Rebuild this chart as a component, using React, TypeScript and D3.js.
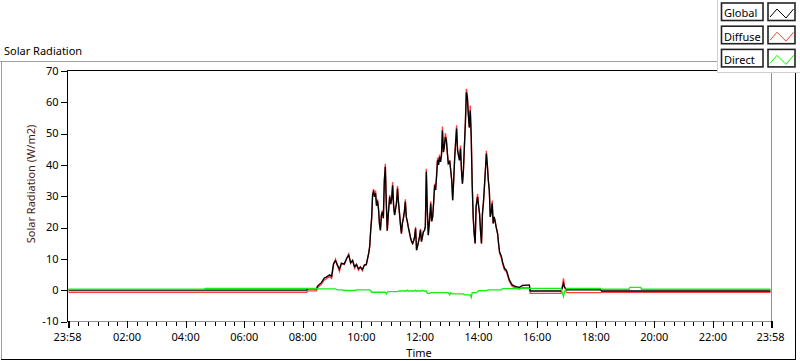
import React from "react";
import * as d3 from "d3";

// ---- data (W/m2), sampled at the listed clock times ----
const times = [
  "00:00","04:38","04:40","08:08","08:10","08:28","08:30","08:38","08:44","08:48",
  "08:55","08:59","09:03","09:07","09:11","09:15","09:19","09:25","09:30","09:34",
  "09:38","09:42","09:46","09:50","09:54","09:58","10:02","10:06","10:10","10:15",
  "10:17","10:19","10:21","10:23","10:25","10:27","10:29","10:31","10:33","10:35",
  "10:37","10:39","10:41","10:43","10:45","10:47","10:49","10:51","10:53","10:55",
  "10:58","11:00","11:02","11:04","11:06","11:08","11:10","11:12","11:14","11:16",
  "11:18","11:20","11:22","11:24","11:26","11:28","11:30","11:32","11:34","11:36",
  "11:39","11:41","11:43","11:45","11:47","11:49","11:51","11:53","11:55","11:57",
  "11:59","12:01","12:03","12:05","12:07","12:09","12:11","12:13","12:15","12:17",
  "12:20","12:22","12:24","12:26","12:28","12:30","12:32","12:34","12:36","12:38",
  "12:40","12:42","12:44","12:46","12:48","12:50","12:52","12:54","12:56","12:58",
  "13:01","13:03","13:05","13:07","13:09","13:11","13:13","13:15","13:17","13:19",
  "13:21","13:23","13:25","13:27","13:29","13:31","13:33","13:35","13:37","13:39",
  "13:41","13:43","13:45","13:47","13:49","13:51","13:53","13:55","13:58","14:00",
  "14:02","14:04","14:06","14:08","14:10","14:12","14:14","14:16","14:18","14:20",
  "14:22","14:24","14:26","14:28","14:30","14:32","14:34","14:36","14:39","14:41",
  "14:43","14:47","14:49","14:53","14:57","14:59","15:03","15:07","15:09","15:17",
  "15:24","15:30","15:44","15:46","16:49","16:52","16:54","16:56","17:00","18:10",
  "18:12","19:08","19:10","19:32","19:34","23:58",
];

const globalRad = [
  0, 0, 0, 0, 0.4, 0.4, 1.3, 2.4, 3.9, 4.2,
  4.9, 4.4, 8.5, 9.4, 8.0, 6.7, 8.6, 8.4, 10.2, 11.2,
  8.8, 9.5, 7.5, 8.2, 6.8, 7.4, 6.6, 8.0, 8.2, 11.8,
  14.0, 19.0, 23.0, 30.5, 31.4, 29.8, 31.0, 27.0, 28.5, 26.0,
  21.3, 19.2, 24.0, 25.0, 23.0, 35.0, 39.4, 28.0, 19.0, 24.0,
  29.8, 27.5, 29.0, 33.5, 27.0, 24.0, 26.0, 27.8, 32.5, 28.0,
  24.6, 21.0, 18.1, 21.4, 23.0, 25.0, 28.2, 23.4, 22.0, 20.2,
  18.0, 16.5, 15.5, 14.9, 15.8, 17.0, 19.7, 12.8, 14.0, 15.5,
  17.0, 19.2, 15.5, 17.0, 18.7, 19.0, 20.3, 37.8, 25.6, 17.6,
  23.0, 27.7, 22.0, 23.4, 28.0, 33.5, 32.0, 36.2, 41.5, 40.0,
  42.6, 41.0, 43.0, 51.0, 44.1, 46.0, 48.9, 47.9, 44.0, 40.4,
  41.0, 38.3, 35.1, 28.7, 35.0, 42.0, 47.0, 51.6, 44.7, 43.0,
  41.5, 45.2, 38.3, 34.0, 38.3, 46.0, 53.2, 63.2, 61.6, 56.3,
  52.0, 57.4, 48.9, 33.5, 23.4, 18.1, 14.9, 26.6, 29.8, 27.0,
  24.5, 19.0, 14.9, 24.5, 28.0, 33.0, 38.3, 43.6, 40.0, 35.1,
  31.9, 23.4, 25.0, 27.7, 21.3, 23.4, 22.0, 20.2, 18.1, 15.0,
  12.3, 10.7, 9.1, 7.0, 6.4, 5.4, 3.3, 2.2, 1.7, 1.1,
  0.9, 1.5, 1.7, -0.25, -0.25, 1.0, 2.2, 1.0, 0.1, 0.1,
  -0.25, -0.25, -0.25, -0.25, -0.25, -0.25,
];

const diffuseRad = [
  -0.65, -0.65, -0.65, -0.65, -0.2, -0.2, 0.8, 1.9, 3.3, 3.6,
  4.4, 3.8, 8.2, 9.9, 7.8, 6.0, 8.6, 8.2, 10.2, 11.6,
  8.5, 9.5, 7.0, 8.2, 6.4, 7.4, 6.2, 8.0, 8.0, 11.8,
  14.0, 19.0, 23.0, 31.0, 32.3, 30.0, 31.8, 27.0, 29.0, 26.0,
  21.0, 19.0, 24.0, 25.5, 23.0, 35.0, 40.4, 28.0, 19.0, 24.0,
  30.4, 27.5, 29.4, 34.5, 27.0, 24.0, 26.0, 28.5, 33.3, 28.0,
  24.6, 21.0, 18.0, 21.4, 23.0, 25.0, 29.0, 23.4, 22.0, 20.2,
  18.0, 16.5, 15.5, 14.9, 15.8, 17.0, 20.2, 12.8, 14.0, 15.5,
  17.0, 19.6, 15.5, 17.0, 18.7, 19.0, 20.3, 38.8, 25.6, 17.6,
  23.0, 28.4, 22.0, 23.4, 28.0, 34.0, 32.0, 37.0, 42.3, 40.0,
  43.3, 41.0, 43.0, 52.3, 44.1, 46.0, 50.2, 48.5, 44.0, 40.4,
  41.5, 38.3, 35.1, 28.7, 35.0, 42.0, 47.5, 52.7, 44.7, 43.0,
  41.5, 46.2, 38.3, 34.0, 38.3, 46.0, 53.6, 64.3, 62.6, 56.3,
  52.0, 59.0, 48.9, 33.5, 23.4, 18.1, 14.9, 27.2, 30.8, 27.0,
  24.5, 19.0, 14.9, 24.5, 28.0, 33.0, 38.3, 44.5, 40.0, 35.1,
  31.9, 23.4, 25.0, 28.6, 21.3, 23.4, 22.0, 20.2, 18.1, 14.6,
  11.8, 10.1, 8.6, 6.5, 5.9, 4.9, 2.8, 1.7, 1.2, 0.6,
  0.4, 0.8, 0.7, -1.0, -1.0, 1.8, 3.8, 1.2, -0.8, -0.8,
  -0.65, -0.65, -0.65, -0.65, -0.65, -0.65,
];

const directRad = [
  0.3, 0.3, 0.6, 0.6, 0.6, 0.6, 0.4, 0.4, 0.4, 0.4,
  0.4, 0.4, 0.4, 0.4, 0.1, 0.1, 0.1, -0.1, -0.1, -0.1,
  -0.1, -0.1, -0.1, 0.1, 0.1, 0.1, 0.1, 0.1, 0.1, 0.1,
  0.1, -0.2, -0.65, -0.65, -0.65, -0.65, -0.65, -0.65, -0.65, -0.65,
  -0.65, -0.65, -0.65, -0.65, -0.65, -0.65, -0.65, -1.2, -0.65, -0.45,
  -0.45, -0.45, -0.45, -0.45, -0.45, -0.45, -0.45, -0.45, -0.45, -0.3,
  -0.25, -0.25, -0.25, -0.25, -0.25, -0.25, -0.25, -0.25, 0, -0.25,
  -0.25, -0.25, -0.25, -0.25, -0.25, -0.25, 0, -0.25, -0.25, -0.25,
  -0.25, -0.25, -0.25, 0, -0.25, -0.25, -0.25, -0.25, -1.0, -1.0,
  -1.0, -0.8, -0.8, -0.8, -0.8, -0.8, -0.8, -0.8, -0.8, -0.8,
  -0.8, -0.8, -0.8, -0.8, -0.8, -0.8, -0.8, -0.8, -0.8, -0.8,
  -1.5, -0.8, -1.2, -1.2, -1.2, -1.2, -1.2, -1.2, -1.2, -1.2,
  -1.2, -1.2, -1.2, -1.2, -1.2, -1.5, -1.5, -1.5, -1.5, -1.5,
  -1.5, -1.5, -2.3, -0.8, -0.8, -0.8, -0.8, -0.8, -0.5, -0.15,
  -0.15, -0.15, -0.15, -0.15, -0.15, -0.15, -0.15, -0.15, 0, 0.1,
  0.1, 0.1, 0.1, 0.1, 0.1, 0.1, 0.1, 0.1, 0.1, 0.1,
  0.1, 0.1, 0.5, 0.5, 0.5, 0.5, 0.5, 0.5, 0.5, 0.5,
  0.5, 0.6, 0.6, 0.6, 0.6, -1.0, -2.0, -0.5, 0.6, 0.6,
  0.3, 0.3, 0.9, 0.9, 0.3, 0.3,
];

const yTicks = [-10, 0, 10, 20, 30, 40, 50, 60, 70];
const xTickTimes = ["23:58", "02:00", "04:00", "06:00", "08:00", "10:00", "12:00", "14:00", "16:00", "18:00", "20:00", "22:00", "23:58"];
const seriesNames = ["Global", "Diffuse", "Direct"];
const seriesColors = ["#000000", "#ff4040", "#14ee14"];

const FONT = "'Noto Sans', sans-serif";

function toMin(s: string): number {
  const [h, m] = s.split(":").map(Number);
  return h * 60 + m;
}

export default function App() {
  const W = 800;
  const H = 361;
  const left = 67.5;
  const right = 770.5;
  const top = 71;
  const bottom = 321.5;

  const x = d3.scaleLinear().domain([-2, 1438]).range([left, right]);
  const y = d3.scaleLinear().domain([-10, 70]).range([bottom, top]);

  const mins = times.map(toMin);
  const line = d3
    .line<number>()
    .x((_, i) => x(mins[i]))
    .y((d) => y(d));

  const majorMins = xTickTimes.map((t, i) => (i === 0 ? -2 : toMin(t)));
  const minorMins: number[] = [];
  for (let m = 20; m < 1438; m += 20) if (m % 120 !== 0) minorMins.push(m);

  const series = [globalRad, diffuseRad, directRad];
  const drawOrder = [1, 0, 2];

  const textColor = "#000";

  return (
    <svg
      width={W}
      height={H}
      style={{ position: "absolute", left: 0, top: 0, background: "#fff" }}
      fontFamily={FONT}
    >
      <rect x={0} y={0} width={W} height={H} fill="#fff" />

      {/* Title */}
      <text x={4} y={55} fontSize={11} fill={textColor}>Solar Radiation</text>

      {/* Outer frame */}
      <g shapeRendering="crispEdges">
        <line x1={0} x2={717} y1={61.5} y2={61.5} stroke="#a0a0a0" />
        <line x1={1.5} x2={1.5} y1={61} y2={359} stroke="#a0a0a0" />
        <line x1={1} x2={796} y1={359.5} y2={359.5} stroke="#000" />
        <line x1={795.5} x2={795.5} y1={72} y2={360} stroke="#000" />
      </g>

      {/* Data */}
      <g>
        {drawOrder.map((si) => (
          <path
            key={seriesNames[si]}
            d={line(series[si]) || ""}
            fill="none"
            stroke={seriesColors[si]}
            strokeWidth={1.35}
          />
        ))}
      </g>

      {/* Plot border */}
      <g shapeRendering="crispEdges">
        <line x1={left} x2={772} y1={70.5} y2={70.5} stroke="#000" />
        <line x1={771.5} x2={771.5} y1={70.5} y2={bottom} stroke="#909090" />
        <line x1={left} x2={772} y1={bottom} y2={bottom} stroke="#909090" />
        <line x1={left} x2={left} y1={70} y2={bottom + 0.5} stroke="#000" />
      </g>

      {/* Y axis */}
      <g shapeRendering="crispEdges">
        {yTicks.map((v) => (
          <line key={v} x1={61} x2={67} y1={Math.round(y(v)) + 0.5} y2={Math.round(y(v)) + 0.5} stroke="#000" />
        ))}
      </g>
      {yTicks.map((v) => (
        <text key={v} x={58.5} y={y(v)} dy="0.35em" textAnchor="end" fontSize={11} fill={textColor}>
          {v}
        </text>
      ))}
      <text
        transform={`translate(35,184) rotate(-90)`}
        textAnchor="middle"
        fontSize={11}
        fill="#4a1a14"
      >
        Solar Radiation (W/m2)
      </text>

      {/* X axis */}
      <g shapeRendering="crispEdges">
        {majorMins.map((m, i) => (
          <line key={"M" + i} x1={Math.round(x(m)) + 0.5} x2={Math.round(x(m)) + 0.5} y1={321} y2={328} stroke="#000" strokeWidth={i === 0 || i === majorMins.length - 1 ? 2 : 1} />
        ))}
        {minorMins.map((m) => (
          <line key={"m" + m} x1={Math.round(x(m)) + 0.5} x2={Math.round(x(m)) + 0.5} y1={322} y2={325.5} stroke="#000" />
        ))}
      </g>
      {majorMins.map((m, i) => (
        <text key={"t" + i} x={x(m)} y={340.5} textAnchor="middle" fontSize={11} fill={textColor}>
          {xTickTimes[i]}
        </text>
      ))}
      <text x={(left + right) / 2} y={356.5} textAnchor="middle" fontSize={11} fill={textColor}>Time</text>

      {/* Legend */}
      <g>
        <rect x={717} y={0} width={83} height={72} fill="#fff" />
        <g shapeRendering="crispEdges">
          <line x1={717.5} x2={717.5} y1={0} y2={72} stroke="#d0d0d0" />
          <line x1={717} x2={800} y1={72.5} y2={72.5} stroke="#d0d0d0" />
        </g>
        {seriesNames.map((name, i) => {
          const ty = 3 + i * 23.2;
          return (
            <g key={name}>
              <rect x={721.5} y={ty} width={41.5} height={17.5} fill="#fff" stroke="#222" strokeWidth={1.6} />
              <text x={724} y={ty + 14.3} fontSize={11} fill={textColor}>{name}</text>
              <rect x={768} y={ty} width={27} height={17.5} fill="#fff" stroke="#222" strokeWidth={1.6} />
              <polyline
                points={`${770},${ty + 14} ${777},${ty + 6} ${786},${ty + 15} ${793.5},${ty + 6}`}
                fill="none"
                stroke={seriesColors[i]}
                strokeWidth={1}
              />
            </g>
          );
        })}
      </g>
    </svg>
  );
}
